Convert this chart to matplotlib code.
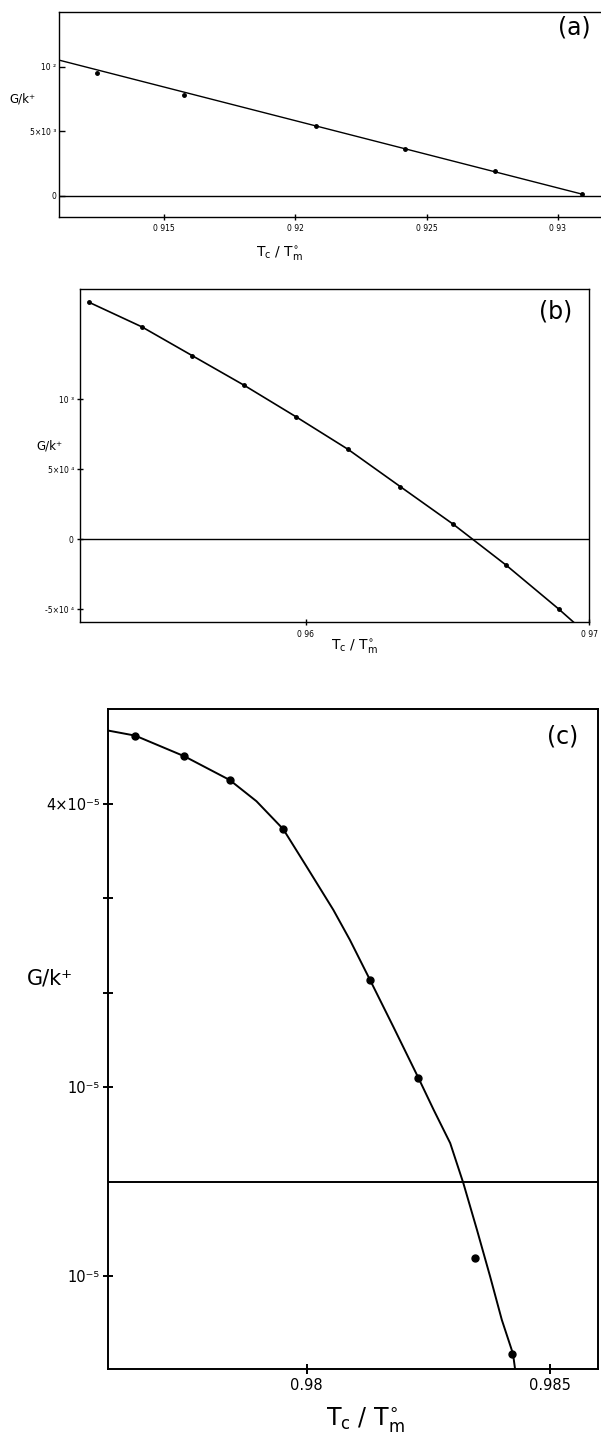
# -*- coding: utf-8 -*-
"""
G/k+ against Tc/Tm for three fractions, panels (a) (b) (c)
"""

# ================================ LIBRARIES ================================ #

import numpy as np
import matplotlib
matplotlib.use('Agg')
import matplotlib.pyplot as plt

# ================================== DATA =================================== #

# panel (a) : measured points + straight fit line
A_X     = [0.91245, 0.91576, 0.92079, 0.92418, 0.92761, 0.93092]
A_Y     = [0.00951, 0.00784, 0.00543, 0.00364, 0.00192, 0.00016]
A_FIT_X = [0.91099, 0.93096]
A_FIT_Y = [0.01052, 0.00010]
A_XTICKS = [0.915, 0.92, 0.925, 0.93]
A_XLABS  = ['0 915', '0 92', '0 925', '0 93']
A_YTICKS = [0.01, 0.005, 0.0]
A_YLABS  = ['10 \u00b2', '5\u00d710 \u00b3', '0']

# panel (b)
B_X = [0.95235, 0.95421, 0.95600, 0.95781, 0.95965,
       0.96149, 0.96334, 0.96521, 0.96707, 0.96893]
B_Y = [1.691e-3, 1.516e-3, 1.309e-3, 1.100e-3, 0.874e-3,
       0.641e-3, 0.374e-3, 0.105e-3, -0.186e-3, -0.500e-3]
B_CURVE_X = B_X + [0.96946]
B_CURVE_Y = B_Y + [-0.595e-3]
B_XTICKS = [0.96, 0.97]
B_XLABS  = ['0 96', '0 97']
B_YTICKS = [1e-3, 5e-4, 0.0, -5e-4]
B_YLABS  = ['10 \u00b3', '5\u00d710 \u2074', '0', '-5\u00d710 \u2074']

# panel (c)
C_X = [0.97648, 0.97749, 0.97842, 0.97951, 0.98130, 0.98228, 0.98345, 0.98421]
C_Y = [4.725e-5, 4.506e-5, 4.255e-5, 3.739e-5, 2.133e-5, 1.101e-5,
       -0.805e-5, -1.825e-5]
C_CURVE_X = [0.97593, 0.97648, 0.97749, 0.97842, 0.97897, 0.97952,
             0.98000, 0.98055, 0.98089, 0.98131, 0.98178, 0.98230, 0.98261,
             0.98295, 0.98322, 0.98350, 0.98377, 0.98401, 0.98424, 0.98428]
C_CURVE_Y = [4.778e-5, 4.725e-5, 4.506e-5, 4.255e-5, 4.030e-5,
             3.734e-5, 3.337e-5, 2.878e-5, 2.560e-5, 2.129e-5, 1.642e-5,
             1.095e-5, 0.760e-5, 0.407e-5, -0.017e-5, -0.512e-5, -1.006e-5,
             -1.465e-5, -1.825e-5, -1.977e-5]
C_XTICKS = [0.98, 0.985]
C_XLABS  = ['0.98', '0.985']
C_YTICKS = [4e-5, 3e-5, 2e-5, 1e-5, -1e-5]
C_YLABS  = ['4\u00d710\u207b\u2075', '', '', '10\u207b\u2075', '10\u207b\u2075']

# =============================== FIGURE SETUP ============================== #

W, H = 601, 1439
plt.rcParams['font.family'] = ['DejaVu Sans']
plt.rcParams['mathtext.default'] = 'regular'

fig = plt.figure(figsize=(W/100, H/100), dpi=100)
fig.patch.set_facecolor('white')

def px_axes(left, top, right, bottom):
    # axes from pixel box
    return fig.add_axes([left/W, 1 - bottom/H, (right-left)/W, (bottom-top)/H])

def fig_txt(x, y, s, size, **kw):
    fig.text(x/W, 1 - y/H, s, fontsize=size, ha='center', va='center', **kw)

XLAB = 'T$_c$ / T$_m^{\\circ}$'

def style(ax, lw, xt, xl, yt, yl, tsize, xdir, ydir, tlen):
    for sp in ax.spines.values():
        sp.set_linewidth(lw)
        sp.set_color('black')
    ax.set_xticks(xt)
    ax.set_xticklabels(xl)
    ax.set_yticks(yt)
    ax.set_yticklabels(yl)
    ax.tick_params(axis='x', direction=xdir, length=tlen, width=lw,
                   labelsize=tsize, pad=3)
    ax.tick_params(axis='y', direction=ydir, length=tlen, width=lw,
                   labelsize=tsize, pad=2)

# ================================ PANEL (a) ================================ #

ax = px_axes(58.7, 12.3, 606, 217.3)
ax.plot(A_FIT_X, A_FIT_Y, color='black', lw=1.0)
ax.plot(A_X, A_Y, 'o', color='black', ms=2.5)
ax.axhline(0, color='black', lw=1.0)
ax.set_xlim(0.91099, 0.93183)
ax.set_ylim(-0.001674, 0.01422)
style(ax, 1.0, A_XTICKS, A_XLABS, A_YTICKS, A_YLABS, 5.5, 'inout', 'in', 4)
ax.spines['right'].set_visible(False)
fig_txt(574, 28, '(a)', 17)
fig_txt(22, 99, 'G/k\u207a', 8.5)
fig_txt(280, 254, XLAB, 10)

# ================================ PANEL (b) ================================ #

ax = px_axes(80, 289, 589, 622.3)
ax.plot(B_CURVE_X, B_CURVE_Y, color='black', lw=1.2)
ax.plot(B_X, B_Y, 'o', color='black', ms=2.5)
ax.axhline(0, color='black', lw=1.0)
ax.set_xlim(0.95203, 0.97)
ax.set_ylim(-0.595e-3, 1.786e-3)
style(ax, 1.0, B_XTICKS, B_XLABS, B_YTICKS, B_YLABS, 5.5, 'inout', 'inout', 5)
fig_txt(556, 311.7, '(b)', 17)
fig_txt(49, 446, 'G/k\u207a', 8.5)
fig_txt(355, 647, XLAB, 10)

# ================================ PANEL (c) ================================ #

ax = px_axes(107.5, 709.3, 597.7, 1368.5)
ax.plot(C_CURVE_X, C_CURVE_Y, color='black', lw=1.4)
ax.plot(C_X, C_Y, 'o', color='black', ms=5)
ax.axhline(0, color='black', lw=1.4)
ax.set_xlim(0.97591, 0.98598)
ax.set_ylim(-1.981e-5, 5.004e-5)
style(ax, 1.4, C_XTICKS, C_XLABS, C_YTICKS, C_YLABS, 10.5, 'inout', 'inout', 7)
fig_txt(563, 736.7, '(c)', 17)
fig_txt(49.5, 978, 'G/k\u207a', 15)
fig_txt(365, 1420, XLAB, 17)

fig.savefig('out.png', dpi=100, facecolor='white')
